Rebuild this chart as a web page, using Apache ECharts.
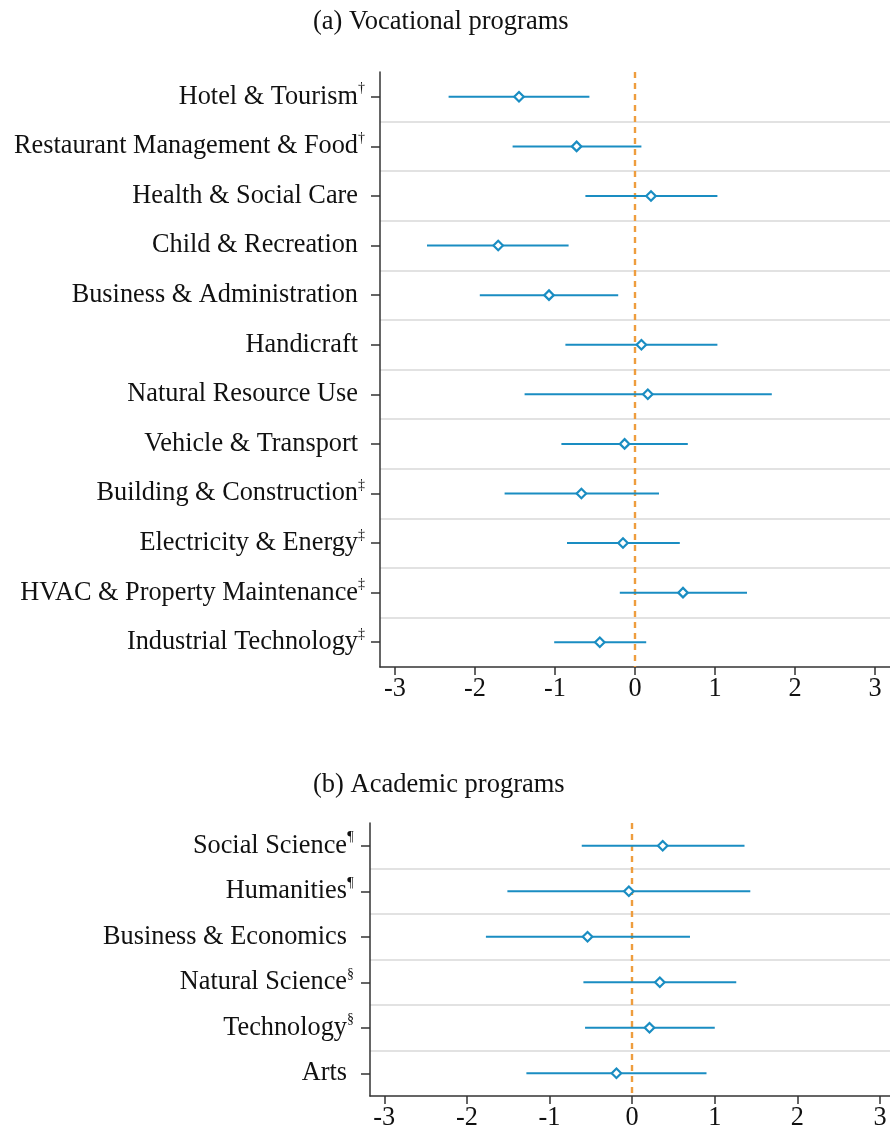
<!DOCTYPE html>
<html><head><meta charset="utf-8">
<script src="https://cdn.jsdelivr.net/npm/echarts@6/dist/echarts.min.js"></script>
<style>html,body{margin:0;padding:0;background:#fff}#c{width:890px;height:1135px}</style>
</head><body><div id="c"></div>
<script>
// ---- data ----
const vocCategories = ['Hotel & Tourism','Restaurant Management & Food','Health & Social Care','Child & Recreation','Business & Administration','Handicraft','Natural Resource Use','Vehicle & Transport','Building & Construction','Electricity & Energy','HVAC & Property Maintenance','Industrial Technology'];
const vocSup = ['\u2020','\u2020','','','','','','','\u2021','\u2021','\u2021','\u2021'];
const vocEst = [-1.45,-0.73,0.20,-1.71,-1.075,0.08,0.16,-0.13,-0.67,-0.15,0.60,-0.44];
const vocLo  = [-2.33,-1.53,-0.62,-2.60,-1.94,-0.87,-1.38,-0.92,-1.63,-0.85,-0.19,-1.01];
const vocHi  = [-0.57,0.08,1.03,-0.83,-0.21,1.03,1.71,0.66,0.30,0.56,1.40,0.14];

const acaCategories = ['Social Science','Humanities','Business & Economics','Natural Science','Technology','Arts'];
const acaSup = ['\u00B6','\u00B6','','\u00A7','\u00A7',''];
const acaEst = [0.37,-0.04,-0.54,0.335,0.21,-0.19];
const acaLo  = [-0.61,-1.51,-1.77,-0.59,-0.57,-1.28];
const acaHi  = [1.36,1.43,0.70,1.26,1.00,0.90];

const xTicks = [-3,-2,-1,0,1,2,3];
const titles = ['(a) Vocational programs','(b) Academic programs'];

// ---- styles ----
const FONT = 'Liberation Serif';
const BLUE = '#1a8dc2';
const ORANGE = '#ee9d3e';
const AXIS = '#333';

function yAxisFor(gridIndex, cats, sups, margin) {
  return {
    type: 'category', gridIndex, data: cats, inverse: true,
    axisLine: {show: true, onZero: false, lineStyle: {color: AXIS, width: 1.5}},
    axisTick: {show: true, alignWithLabel: true, length: 9, lineStyle: {color: AXIS, width: 1.5}},
    splitLine: {show: true, showMinLine: false, showMaxLine: false, lineStyle: {color: '#e2e2e2', width: 2}},
    axisLabel: {
      margin,
      formatter: (v, i) => sups[i] ? `{n|${v}}{s|${sups[i]}}` : `{n|${v}}{e| }`,
      rich: {
        n: {fontFamily: FONT, fontSize: 26.3, color: '#111', lineHeight: 30},
        s: {fontFamily: FONT, fontSize: 14, color: '#111', width: 7, lineHeight: 14, verticalAlign: 'top', align: 'left'},
        e: {fontFamily: FONT, fontSize: 13, width: 7}
      }
    }
  };
}
function xAxisFor(gridIndex, lo, hi) {
  return {
    type: 'value', gridIndex, min: lo, max: hi,
    axisLine: {show: true, onZero: false, lineStyle: {color: AXIS, width: 1.5}},
    axisTick: {show: true, length: 8, customValues: xTicks, lineStyle: {color: AXIS, width: 1.5}},
    splitLine: {show: false},
    axisLabel: {customValues: xTicks, fontFamily: FONT, fontSize: 26.3, color: '#111', margin: 9}
  };
}
function seriesFor(idx, cats, est, lo, hi) {
  const barData = cats.map((c, i) => [lo[i], i, hi[i]]);
  const ptData = cats.map((c, i) => [est[i], i]);
  return [
    {
      type: 'custom', xAxisIndex: idx, yAxisIndex: idx, data: barData,
      z: 3, silent: true,
      renderItem: (params, api) => {
        const p1 = api.coord([api.value(0), api.value(1)]);
        const p2 = api.coord([api.value(2), api.value(1)]);
        return {type: 'line', shape: {x1: p1[0], y1: p1[1], x2: p2[0], y2: p2[1]},
                style: {stroke: BLUE, lineWidth: 2}};
      }
    },
    {
      type: 'scatter', xAxisIndex: idx, yAxisIndex: idx, data: ptData, z: 4,
      symbol: 'diamond', symbolSize: 9.5,
      itemStyle: {color: '#fff', borderColor: BLUE, borderWidth: 2.2, opacity: 1},
      markLine: {
        silent: true, symbol: ['none', 'none'], label: {show: false}, z: 2,
        lineStyle: {color: ORANGE, type: [6, 5], width: 2.4, opacity: 1},
        data: [{xAxis: 0}]
      }
    }
  ];
}

const chart = echarts.init(document.getElementById('c'), null, {renderer: 'canvas'});
chart.setOption({
  animation: false,
  backgroundColor: '#fff',
  title: [
    {text: titles[0], left: 308, top: 4, textStyle: {fontFamily: FONT, fontSize: 26.5, fontWeight: 'normal', color: '#111'}},
    {text: titles[1], left: 308, top: 767, textStyle: {fontFamily: FONT, fontSize: 26.5, fontWeight: 'normal', color: '#111'}}
  ],
  grid: [
    {left: 380, top: 72, width: 510, height: 595},
    {left: 370, top: 823, width: 520, height: 273}
  ],
  xAxis: [xAxisFor(0, -3.1875, 3.1875), xAxisFor(1, -3.173, 3.121)],
  yAxis: [yAxisFor(0, vocCategories, vocSup, 15), yAxisFor(1, acaCategories, acaSup, 16)],
  series: [
    ...seriesFor(0, vocCategories, vocEst, vocLo, vocHi),
    ...seriesFor(1, acaCategories, acaEst, acaLo, acaHi)
  ]
});
</script></body></html>
